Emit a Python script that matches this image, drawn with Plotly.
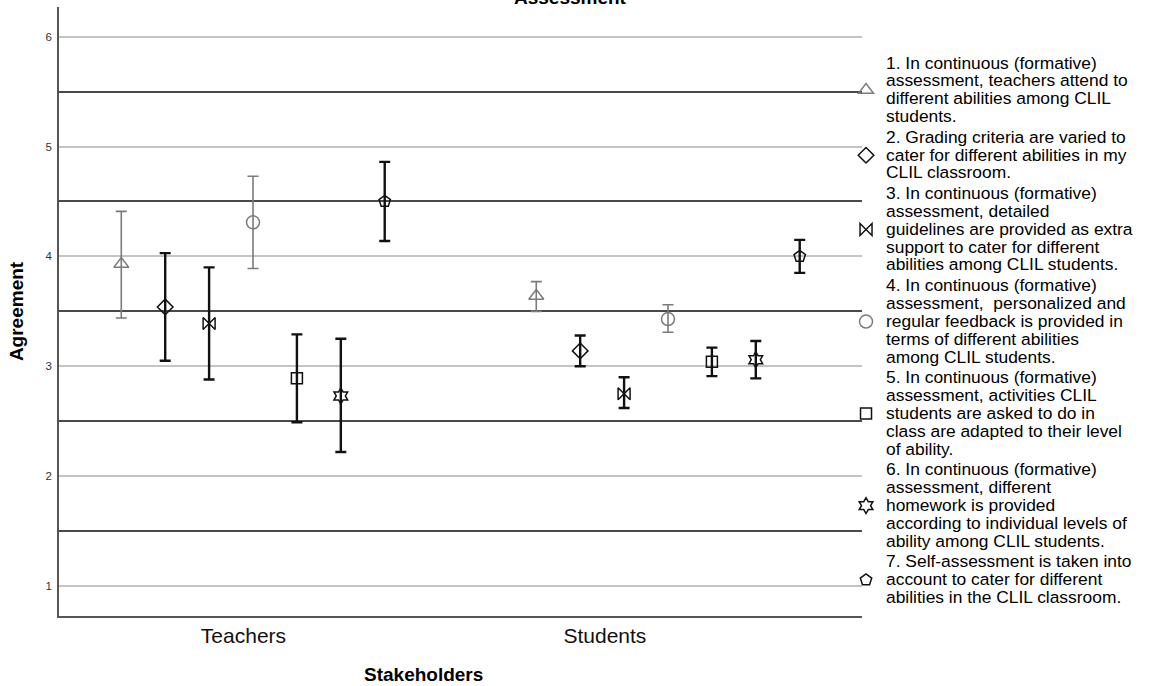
import plotly.graph_objects as go

# ---------------- data ----------------
groups = ["Teachers", "Students"]

item_lines = [
    ["1. In continuous (formative)", "assessment, teachers attend to",
     "different abilities among CLIL", "students."],
    ["2. Grading criteria are varied to", "cater for different abilities in my",
     "CLIL classroom."],
    ["3. In continuous (formative)", "assessment, detailed",
     "guidelines are provided as extra", "support to cater for different",
     "abilities among CLIL students."],
    ["4. In continuous (formative)", "assessment,  personalized and",
     "regular feedback is provided in", "terms of different abilities",
     "among CLIL students."],
    ["5. In continuous (formative)", "assessment, activities CLIL",
     "students are asked to do in", "class are adapted to their level",
     "of ability."],
    ["6. In continuous (formative)", "assessment, different",
     "homework is provided", "according to individual levels of",
     "ability among CLIL students."],
    ["7. Self-assessment is taken into", "account to cater for different",
     "abilities in the CLIL classroom."],
]

teachers_mean = [3.93, 3.54, 3.39, 4.31, 2.89, 2.73, 4.50]
teachers_low = [3.44, 3.05, 2.88, 3.89, 2.49, 2.22, 4.14]
teachers_high = [4.41, 4.03, 3.90, 4.73, 3.29, 3.25, 4.86]

students_mean = [3.64, 3.14, 2.75, 3.43, 3.04, 3.06, 4.00]
students_low = [3.50, 3.00, 2.62, 3.31, 2.91, 2.89, 3.85]
students_high = [3.77, 3.28, 2.90, 3.56, 3.17, 3.23, 4.15]

y_ticks = [1, 2, 3, 4, 5, 6]

# ---------------- styling ----------------
GRAY = "#7b7b7b"
BLACK = "#111111"
symbols = ["triangle-up-open", "diamond-open", "bowtie-open", "circle-open",
           "square-open", "hexagram-open", "pentagon-open"]
colors = [GRAY, BLACK, BLACK, GRAY, BLACK, BLACK, BLACK]
sizes = [13, 12, 12, 13, 11, 12, 12]
bar_w = [1.6, 2.4, 2.4, 1.6, 2.4, 2.4, 2.4]

dodge = 0.1058  # spacing between items within a stakeholder cluster

fig = go.Figure()
n = len(item_lines)
for i in range(n):
    means = [teachers_mean[i], students_mean[i]]
    lows = [teachers_low[i], students_low[i]]
    highs = [teachers_high[i], students_high[i]]
    xs = [g + (i - (n - 1) / 2) * dodge for g in range(len(groups))]
    label = "<br>".join(
        '<span style="font-size:17.4px">%s</span>' % ln for ln in item_lines[i]
    )
    fig.add_trace(go.Scatter(
        x=xs, y=means, mode="markers", name=label,
        marker=dict(symbol=symbols[i], size=sizes[i], color=colors[i],
                    line=dict(width=1.5, color=colors[i])),
        error_y=dict(type="data", symmetric=False,
                     array=[h - m for h, m in zip(highs, means)],
                     arrayminus=[m - l for m, l in zip(means, lows)],
                     color=colors[i], thickness=bar_w[i], width=5.5),
    ))

fig.update_layout(
    width=1149, height=686,
    margin=dict(l=59, r=287, t=7, b=70, autoexpand=False),
    paper_bgcolor="white", plot_bgcolor="white",
    font=dict(family="Liberation Sans, Arial, sans-serif", color="#000"),
    showlegend=True,
    legend=dict(x=0.9801, xanchor="left", y=0.933, yanchor="top",
                bgcolor="rgba(0,0,0,0)", borderwidth=0,
                font=dict(size=13.7, color="#000"),
                tracegroupgap=0),
    xaxis=dict(range=[-0.4675, 1.4675], tickmode="array",
               tickvals=[-0.023, 0.848], ticktext=groups,
               tickfont=dict(size=21, color="#111"), automargin=False,
               showgrid=False, zeroline=False, showline=True,
               linecolor="#555", linewidth=1.5, ticks="", ticklen=0),
    yaxis=dict(range=[0.727, 6.27], tickmode="array", tickvals=y_ticks,
               tickfont=dict(size=11.5, color="#333"), automargin=False,
               ticklabelstandoff=3,
               showgrid=True, gridcolor="#c4c4c4", gridwidth=1.5,
               minor=dict(tickvals=[1.5, 2.5, 3.5, 4.5, 5.5], showgrid=True,
                          gridcolor="#4a4a4a", gridwidth=1.6, ticks=""),
               zeroline=False, showline=True, linecolor="#555", linewidth=1.5,
               ticks="",
               title=dict(text="<b>Agreement</b>", font=dict(size=19),
                          standoff=17)),
    annotations=[
        dict(text="<b>Assessment</b>", xref="paper", yref="paper",
             x=0.6364, y=1.0156, xanchor="center", yanchor="middle",
             showarrow=False, font=dict(size=19, color="#000")),
        dict(text="<b>Stakeholders</b>", xref="paper", yref="paper",
             x=0.4545, y=-0.0955, xanchor="center", yanchor="middle",
             showarrow=False, font=dict(size=19, color="#000")),
    ],
)

fig.write_html("out.html",
               config={"displayModeBar": False},
               post_script="document.body.style.margin='0px';"
                           "document.body.style.overflow='hidden';")
